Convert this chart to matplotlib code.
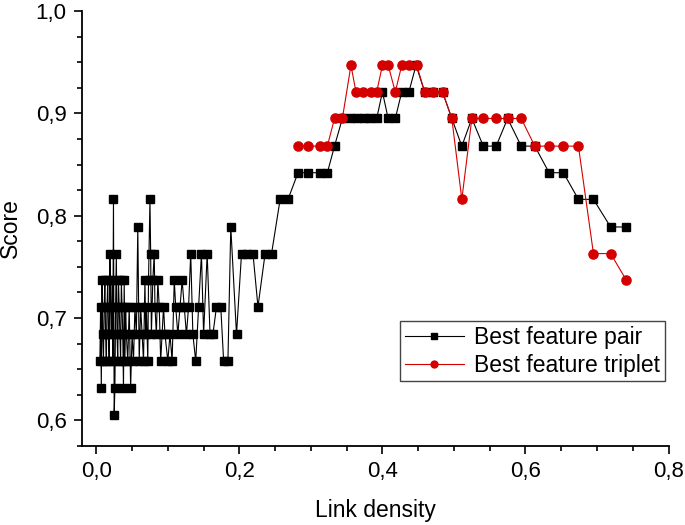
import matplotlib
matplotlib.use("Agg")
import matplotlib.pyplot as plt
from matplotlib.ticker import MultipleLocator

plt.rcParams['font.family'] = ['Liberation Sans', 'DejaVu Sans']

# Best feature pair
pair_x = [0.005, 0.006, 0.007, 0.008, 0.009, 0.010, 0.011, 0.012, 0.013, 0.014,
          0.015, 0.016, 0.017, 0.018, 0.019, 0.020, 0.021, 0.022, 0.023, 0.024,
          0.025, 0.026, 0.027, 0.028, 0.029, 0.030, 0.031, 0.032, 0.033, 0.034,
          0.035, 0.036, 0.037, 0.038, 0.039, 0.040, 0.041, 0.042, 0.044, 0.046,
          0.048, 0.050, 0.052, 0.054, 0.056, 0.058, 0.060, 0.062, 0.064, 0.066,
          0.068, 0.069, 0.070, 0.072, 0.073, 0.075, 0.076, 0.077, 0.079, 0.081,
          0.082, 0.084, 0.086, 0.088, 0.090, 0.092, 0.094, 0.096, 0.100, 0.103,
          0.106, 0.109, 0.111, 0.114, 0.117, 0.120, 0.123, 0.126, 0.129, 0.132,
          0.135, 0.139, 0.143, 0.147, 0.150, 0.155, 0.159, 0.163, 0.168, 0.174,
          0.178, 0.184, 0.188, 0.196, 0.203, 0.211, 0.219, 0.226, 0.236, 0.245,
          0.257, 0.268, 0.282, 0.296, 0.313, 0.323, 0.333, 0.344, 0.355, 0.364,
          0.374, 0.383, 0.392, 0.400, 0.408, 0.418, 0.427, 0.437, 0.447, 0.459,
          0.471, 0.484, 0.497, 0.511, 0.525, 0.541, 0.559, 0.575, 0.594, 0.613,
          0.633, 0.653, 0.674, 0.695, 0.719, 0.741]
pair_y = [0.658, 0.711, 0.632, 0.737, 0.684, 0.658, 0.711, 0.737, 0.684, 0.658,
          0.711, 0.737, 0.684, 0.658, 0.763, 0.711, 0.684, 0.737, 0.658, 0.816,
          0.605, 0.632, 0.711, 0.763, 0.684, 0.658, 0.737, 0.711, 0.684, 0.658,
          0.737, 0.711, 0.684, 0.632, 0.737, 0.658, 0.711, 0.684, 0.658, 0.711,
          0.632, 0.684, 0.658, 0.711, 0.684, 0.789, 0.658, 0.711, 0.684, 0.658,
          0.737, 0.684, 0.711, 0.658, 0.737, 0.816, 0.763, 0.684, 0.737, 0.763,
          0.711, 0.684, 0.737, 0.711, 0.658, 0.684, 0.711, 0.684, 0.658, 0.684,
          0.658, 0.737, 0.711, 0.684, 0.711, 0.737, 0.711, 0.684, 0.711, 0.763,
          0.684, 0.658, 0.711, 0.763, 0.684, 0.763, 0.684, 0.684, 0.711, 0.711,
          0.658, 0.658, 0.789, 0.684, 0.763, 0.763, 0.763, 0.711, 0.763, 0.763,
          0.816, 0.816, 0.842, 0.842, 0.842, 0.842, 0.868, 0.895, 0.895, 0.895,
          0.895, 0.895, 0.895, 0.921, 0.895, 0.895, 0.921, 0.921, 0.947, 0.921,
          0.921, 0.921, 0.895, 0.868, 0.895, 0.868, 0.868, 0.895, 0.868, 0.868,
          0.842, 0.842, 0.816, 0.816, 0.789, 0.789]

# Best feature triplet
trip_x = [0.282, 0.296, 0.313, 0.323, 0.333, 0.344, 0.356, 0.363, 0.373, 0.384,
          0.392, 0.400, 0.408, 0.418, 0.427, 0.437, 0.448, 0.459, 0.471, 0.484,
          0.497, 0.511, 0.525, 0.541, 0.559, 0.575, 0.594, 0.613, 0.633, 0.653,
          0.674, 0.695, 0.719, 0.741]
trip_y = [0.868, 0.868, 0.868, 0.868, 0.895, 0.895, 0.947, 0.921, 0.921, 0.921,
          0.921, 0.947, 0.947, 0.921, 0.947, 0.947, 0.947, 0.921, 0.921, 0.921,
          0.895, 0.816, 0.895, 0.895, 0.895, 0.895, 0.895, 0.868, 0.868, 0.868,
          0.868, 0.763, 0.763, 0.737]

x_ticks = [0.0, 0.2, 0.4, 0.6, 0.8]
x_tick_labels = ["0,0", "0,2", "0,4", "0,6", "0,8"]
y_ticks = [0.6, 0.7, 0.8, 0.9, 1.0]
y_tick_labels = ["0,6", "0,7", "0,8", "0,9", "1,0"]

fig = plt.figure(figsize=(6.85, 5.25), dpi=100)
ax = fig.add_axes([0.1197, 0.1505, 0.8563, 0.8285])

red = '#d40000'
ax.plot(pair_x, pair_y, color='black', lw=0.8, marker='s', markersize=6,
        markerfacecolor='black', markeredgecolor='black', label='Best feature pair')
ax.plot(trip_x, trip_y, color=red, lw=0.8, marker='o', markersize=6.6,
        markerfacecolor=red, markeredgecolor=red, label='Best feature triplet')

ax.set_xlim(-0.02, 0.8)
ax.set_ylim(0.575, 1.0)
ax.set_xticks(x_ticks, x_tick_labels)
ax.set_yticks(y_ticks, y_tick_labels)
ax.xaxis.set_minor_locator(MultipleLocator(0.05))
ax.yaxis.set_minor_locator(MultipleLocator(0.025))
ax.tick_params(which='major', direction='out', length=6, width=1.2, labelsize=16, pad=5)
ax.tick_params(which='minor', direction='out', length=3.5, width=1.2)

for s in ['top', 'right']:
    ax.spines[s].set_visible(False)
for s in ['left', 'bottom']:
    ax.spines[s].set_linewidth(1.3)

ax.set_xlabel('Link density', fontsize=16.5, labelpad=12)
ax.set_ylabel('Score', fontsize=16.5, labelpad=10)

leg = ax.legend(loc='lower right', bbox_to_anchor=(0.994, 0.149), borderaxespad=0,
                fontsize=16.5, fancybox=False, framealpha=1, edgecolor='#444444',
                handlelength=2.6, markerscale=0.75, borderpad=0.2, labelspacing=0.2,
                handletextpad=0.45)
leg.get_frame().set_linewidth(1.0)

fig.savefig('out.png', dpi=100)
